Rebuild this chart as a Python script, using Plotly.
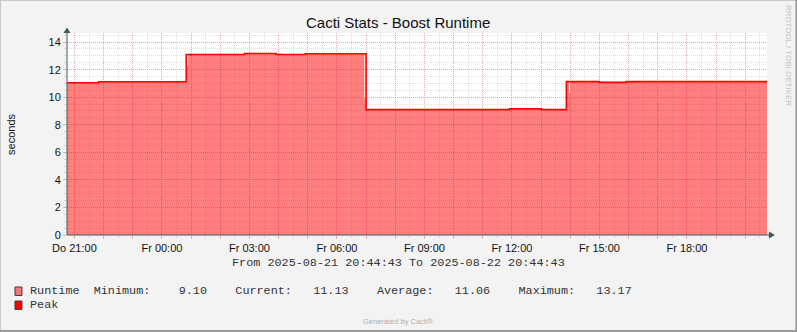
import plotly.graph_objects as go
import pandas as pd

# ---------------- data ----------------
start_time = "2025-08-21 20:44:43"
end_time = "2025-08-22 20:44:43"

peak_times = ["2025-08-21 20:44:43", "2025-08-21 21:50", "2025-08-22 00:50", "2025-08-22 02:50",
              "2025-08-22 03:55", "2025-08-22 04:55", "2025-08-22 07:00", "2025-08-22 11:55",
              "2025-08-22 13:00", "2025-08-22 13:52", "2025-08-22 15:00", "2025-08-22 15:55",
              "2025-08-22 20:44:43"]
peak_values = [11.05, 11.12, 13.10, 13.17, 13.10, 13.15, 9.10, 9.15, 9.10, 11.13, 11.08, 11.13, 11.13]

runtime_times = ["2025-08-21 20:44:43", "2025-08-21 21:50", "2025-08-22 00:50", "2025-08-22 00:51:45",
                 "2025-08-22 00:54", "2025-08-22 02:50", "2025-08-22 03:55", "2025-08-22 04:55",
                 "2025-08-22 06:56:30", "2025-08-22 07:00", "2025-08-22 11:55", "2025-08-22 13:00",
                 "2025-08-22 13:52", "2025-08-22 13:57:45", "2025-08-22 14:00", "2025-08-22 15:00",
                 "2025-08-22 15:55", "2025-08-22 20:44:43"]
runtime_values = [11.05, 11.12, 13.10, 12.28, 13.10, 13.17, 13.10, 13.15, 9.95, 9.10, 9.15, 9.10,
                  11.13, 10.31, 11.13, 11.08, 11.13, 11.13]

label_times = ["2025-08-21 21:00", "2025-08-22 00:00", "2025-08-22 03:00", "2025-08-22 06:00",
               "2025-08-22 09:00", "2025-08-22 12:00", "2025-08-22 15:00", "2025-08-22 18:00"]
label_text = ["Do 21:00", "Fr 00:00", "Fr 03:00", "Fr 06:00", "Fr 09:00", "Fr 12:00", "Fr 15:00", "Fr 18:00"]
y_ticks = [0, 2, 4, 6, 8, 10, 12, 14]

stat_names = ["Minimum", "Current", "Average", "Maximum"]
stat_values = [9.10, 11.13, 11.06, 13.17]

title_text = "Cacti Stats - Boost Runtime"
y_title = "seconds"
series_names = ["Runtime", "Peak"]

# ---------------- geometry helpers ----------------
W, H = 797, 332
PL, PR, PT, PB = 67, 766.6, 33, 235


def X(px):
    return (px - PL) / (PR - PL)


def Y(py):
    return (PB - py) / (PB - PT)


AXIS_COL = "#3f5a5a"
MAJ_GRID = "rgba(230,70,70,0.34)"
MIN_GRID = "rgba(150,150,150,0.3)"
SANS = "Liberation Sans, Arial, sans-serif"
MONO = "Liberation Mono, DejaVu Sans Mono, monospace"

fig = go.Figure()
fig.add_trace(go.Scatter(x=runtime_times, y=runtime_values, mode="lines", line=dict(shape="hv", width=0),
                         fill="tozeroy", fillcolor="rgba(255,0,0,0.5)", name=series_names[0],
                         hoverinfo="skip", showlegend=False))
fig.add_trace(go.Scatter(x=peak_times, y=peak_values, mode="lines",
                         line=dict(shape="hv", width=1.6, color="#ff0000"),
                         name=series_names[1], showlegend=False))

hours = pd.date_range(label_times[0], "2025-08-22 20:00", freq="h")
lab_map = dict(zip(pd.to_datetime(label_times), label_text))
hour_text = [lab_map.get(h, "") for h in hours]

fig.update_xaxes(type="date", range=[start_time, end_time], tickmode="array",
                 tickvals=list(hours), ticktext=hour_text,
                 showgrid=True, gridcolor=MAJ_GRID, griddash="1px,1px", gridwidth=1,
                 ticks="outside", ticklen=3, tickcolor=MAJ_GRID, tickwidth=1,
                 tickfont=dict(family=SANS, size=11, color="#111"),
                 showline=False, zeroline=False, fixedrange=True,
                 minor=dict(tick0="2025-08-21 20:30", dtick=1800000, showgrid=True,
                            gridcolor=MIN_GRID, griddash="1px,1px", ticks="outside",
                            ticklen=2, tickcolor=MIN_GRID))
fig.update_yaxes(range=[0, 14.66], tickmode="array", tickvals=y_ticks,
                 showgrid=True, gridcolor=MAJ_GRID, griddash="1px,1px", gridwidth=1,
                 ticks="outside", ticklen=3, tickcolor=MAJ_GRID,
                 tickfont=dict(family=SANS, size=11, color="#111"),
                 showline=False, zeroline=False, fixedrange=True,
                 minor=dict(dtick=0.5, tick0=0, showgrid=True, gridcolor=MIN_GRID,
                            griddash="1px,1px", ticks="outside", ticklen=2, tickcolor=MIN_GRID))

shapes = []
# frame of the image
shapes.append(dict(type="line", xref="paper", yref="paper", x0=X(0.5), x1=X(0.5), y0=Y(0), y1=Y(332),
                   line=dict(color="#c8c8c8", width=1)))
shapes.append(dict(type="line", xref="paper", yref="paper", x0=X(0), x1=X(797), y0=Y(0.5), y1=Y(0.5),
                   line=dict(color="#c8c8c8", width=1)))
shapes.append(dict(type="line", xref="paper", yref="paper", x0=X(796), x1=X(796), y0=Y(0), y1=Y(332),
                   line=dict(color="#9a9a9a", width=2)))
shapes.append(dict(type="line", xref="paper", yref="paper", x0=X(0), x1=X(797), y0=Y(331), y1=Y(331),
                   line=dict(color="#9a9a9a", width=2)))
# axes with arrows
shapes.append(dict(type="line", xref="paper", yref="paper", x0=X(67), x1=X(67), y0=Y(235), y1=Y(31),
                   line=dict(color=AXIS_COL, width=1)))
shapes.append(dict(type="line", xref="paper", yref="paper", x0=X(67), x1=X(770), y0=Y(235), y1=Y(235),
                   line=dict(color=AXIS_COL, width=1)))
shapes.append(dict(type="path", xref="paper", yref="paper",
                   path=f"M {X(67)},{Y(27.5)} L {X(63.5)},{Y(33)} L {X(70.5)},{Y(33)} Z",
                   fillcolor=AXIS_COL, line=dict(width=0)))
shapes.append(dict(type="path", xref="paper", yref="paper",
                   path=f"M {X(774.5)},{Y(235)} L {X(768.5)},{Y(231.5)} L {X(768.5)},{Y(238.5)} Z",
                   fillcolor=AXIS_COL, line=dict(width=0)))
# legend swatches
shapes.append(dict(type="rect", xref="paper", yref="paper", x0=X(15), x1=X(22), y0=Y(287), y1=Y(295.5),
                   fillcolor="#f07878", line=dict(color="#404040", width=1)))
shapes.append(dict(type="rect", xref="paper", yref="paper", x0=X(15), x1=X(22), y0=Y(301), y1=Y(309.5),
                   fillcolor="#ff0000", line=dict(color="#404040", width=1)))

NB = "\u00a0"
legend1 = series_names[0] + NB * 2 + (NB * 4).join(
    f"{n}:{NB * (3 if v >= 10 else 4)}{v:.2f}" for n, v in zip(stat_names, stat_values))

ann = []
ann.append(dict(text=title_text, x=X(398), y=Y(22.5), xref="paper", yref="paper", showarrow=False,
                xanchor="center", yanchor="middle", font=dict(family=SANS, size=15, color="#111")))
ann.append(dict(text=y_title, x=X(11), y=Y(134), xref="paper", yref="paper", showarrow=False,
                xanchor="center", yanchor="middle", textangle=-90,
                font=dict(family=SANS, size=11, color="#111")))
ann.append(dict(text=f"From{NB}{start_time}{NB}To{NB}{end_time}".replace(" ", NB), x=X(398), y=Y(262.5),
                xref="paper", yref="paper", showarrow=False, xanchor="center", yanchor="middle",
                font=dict(family=MONO, size=11.8, color="#333")))
ann.append(dict(text=legend1, x=X(28.5), y=Y(291), xref="paper", yref="paper", showarrow=False,
                xanchor="left", yanchor="middle", font=dict(family=MONO, size=11.8, color="#333")))
ann.append(dict(text=series_names[1], x=X(28.5), y=Y(305), xref="paper", yref="paper", showarrow=False,
                xanchor="left", yanchor="middle", font=dict(family=MONO, size=11.8, color="#333")))
ann.append(dict(text="Generated by Cacti®", x=X(398), y=Y(321), xref="paper", yref="paper",
                showarrow=False, xanchor="center", yanchor="middle",
                font=dict(family=SANS, size=7.5, color="#b0b0b0")))
ann.append(dict(text="RRDTOOL / TOBI OETIKER", x=X(788.5), y=Y(56), xref="paper", yref="paper",
                showarrow=False, xanchor="center", yanchor="middle", textangle=90,
                font=dict(family=SANS, size=8, color="#c4c4c4")))

fig.update_layout(width=W, height=H, margin=dict(l=PL, r=W - PR, t=PT, b=H - PB, pad=0),
                  paper_bgcolor="#f3f3f3", plot_bgcolor="#ffffff", showlegend=False,
                  shapes=shapes, annotations=ann)

fig.write_html("out.html", config={"displayModeBar": False})
